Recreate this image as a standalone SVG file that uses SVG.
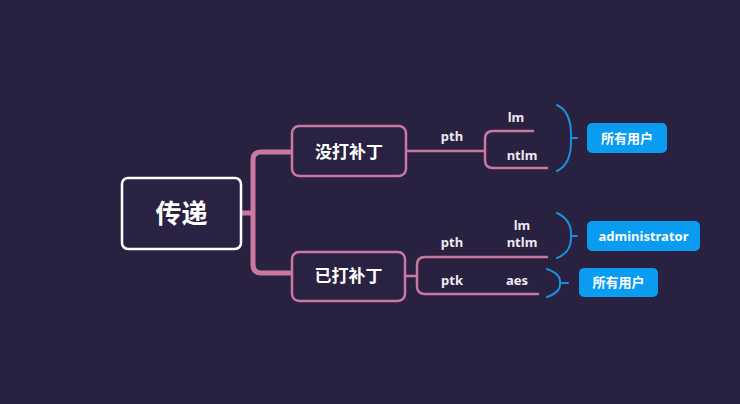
<svg xmlns="http://www.w3.org/2000/svg" width="740" height="404" viewBox="0 0 740 404">
<style>
.bg{fill:#282140}
.pk{fill:none;stroke:#c9799f;stroke-width:2.5;stroke-linecap:round;stroke-linejoin:round}
.bl{fill:none;stroke:#1b8fdc;stroke-width:2;stroke-linecap:round}
.node{fill:#2a2243;stroke:#c9799f;stroke-width:2.5}
.badge{fill:#0a9cf0}
.t{font-family:"Noto Sans","Noto Sans CJK SC",sans-serif;fill:#ffffff;font-weight:bold;text-anchor:middle}
.lbl{font-family:"Noto Sans","Noto Sans CJK SC",sans-serif;fill:#eeeaf2;font-weight:bold;font-size:13px;text-anchor:middle}
</style>
<rect class="bg" x="0" y="0" width="740" height="404"/>
<g id="connectors">
  <path d="M241 213 H252" fill="none" stroke="#c9799f" stroke-width="5"/>
  <path d="M292 152 H261 Q253 152 253 160 V264 Q253 273 261 273 H292" fill="none" stroke="#c9799f" stroke-width="5" stroke-linejoin="round"/>
  <path class="pk" d="M406 151 H485"/>
  <path class="pk" d="M533 131 H493 Q485 131 485 139 V160 Q485 168 493 168 H547"/>
  <path class="pk" d="M405 276 H417"/>
  <path class="pk" d="M547 257 H425 Q417 257 417 265 V286 Q417 294 425 294 H538"/>
  <path class="bl" d="M557 105 Q572 112 571 138 Q572 164 557 171 M571 138 H577"/>
  <path class="bl" d="M557 213 Q572 220 571 236 Q572 252 557 258 M571 236 H577"/>
  <path class="bl" d="M547 269 Q561 274 560 283 Q561 292 547 297 M560 283 H568"/>
</g>
<g id="root">
  <rect x="122" y="178" width="119" height="71" rx="6" fill="#2a2243" stroke="#ffffff" stroke-width="2.5"/>
  <text class="t" x="181.5" y="223" font-size="26">传递</text>
</g>
<g id="n1">
  <rect class="node" x="292" y="126" width="114" height="50" rx="7"/>
  <text class="t" x="349" y="158" font-size="17">没打补丁</text>
</g>
<g id="n2">
  <rect class="node" x="292" y="252" width="113" height="49" rx="7"/>
  <text class="t" x="348.5" y="282" font-size="17">已打补丁</text>
</g>
<g id="labels">
  <text class="lbl" x="452" y="141">pth</text>
  <text class="lbl" x="516" y="122">lm</text>
  <text class="lbl" x="522" y="160">ntlm</text>
  <text class="lbl" x="452" y="247">pth</text>
  <text class="lbl" x="522" y="230">lm</text>
  <text class="lbl" x="522" y="247">ntlm</text>
  <text class="lbl" x="452" y="285">ptk</text>
  <text class="lbl" x="517" y="285">aes</text>
</g>
<g id="b1">
  <rect class="badge" x="587" y="123" width="80" height="30" rx="5"/>
  <text class="t" x="627" y="143" font-size="13">所有用户</text>
</g>
<g id="b2">
  <rect class="badge" x="587" y="221" width="113" height="30" rx="5"/>
  <text class="t" x="643.5" y="241" font-size="13">administrator</text>
</g>
<g id="b3">
  <rect class="badge" x="579" y="268" width="79" height="29" rx="5"/>
  <text class="t" x="618.5" y="287" font-size="13">所有用户</text>
</g>
</svg>
